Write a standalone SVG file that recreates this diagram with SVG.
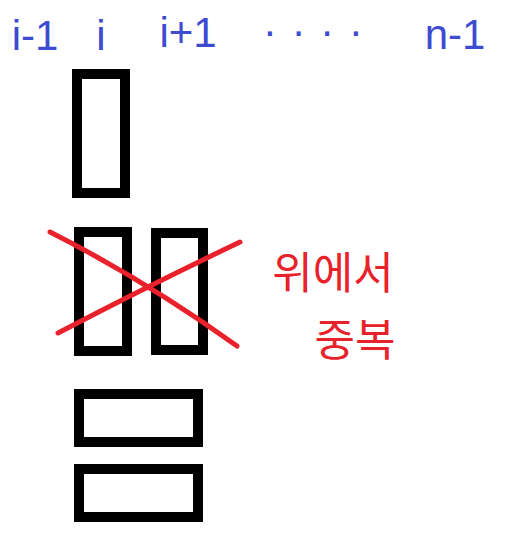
<svg xmlns="http://www.w3.org/2000/svg" width="516" height="550" viewBox="0 0 516 550">
<style>
.box{fill:none;stroke:#000;stroke-width:10}
.idx{font-family:"Liberation Sans",sans-serif;font-size:42px;fill:#3c4bd0;text-anchor:middle}
.dots{font-family:"Liberation Sans",sans-serif;font-size:42px;fill:#3c4bd0}
.note{font-family:"Noto Sans CJK KR",sans-serif;font-size:44px;fill:#e8212b;text-anchor:middle}
.x{fill:none;stroke:#e8212b;stroke-width:5;stroke-linecap:round}
</style>
<rect width="516" height="550" fill="#fff"/>
<g id="labels">
<text class="idx" x="35" y="50">i-1</text>
<text class="idx" x="101" y="50">i</text>
<text class="idx" x="188" y="47">i+1</text>
<text class="dots" x="264" y="36" letter-spacing="17">....</text>
<text class="idx" x="455" y="49">n-1</text>
</g>
<g id="box1"><rect class="box" x="77" y="74" width="48" height="119"/></g>
<g id="box2"><rect class="box" x="79" y="232" width="48" height="119"/></g>
<g id="box3"><rect class="box" x="156" y="233" width="47" height="117"/></g>
<g id="box4"><rect class="box" x="79" y="394" width="119" height="48"/></g>
<g id="box5"><rect class="box" x="79" y="469" width="119" height="48"/></g>
<g id="cross">
<path class="x" d="M50 232 Q145 280 237 346"/>
<path class="x" d="M58 333 Q150 285 240 242"/>
</g>
<g id="note">
<text class="note" x="333" y="289">위에서</text>
<text class="note" x="355" y="356">중복</text>
</g>
</svg>
